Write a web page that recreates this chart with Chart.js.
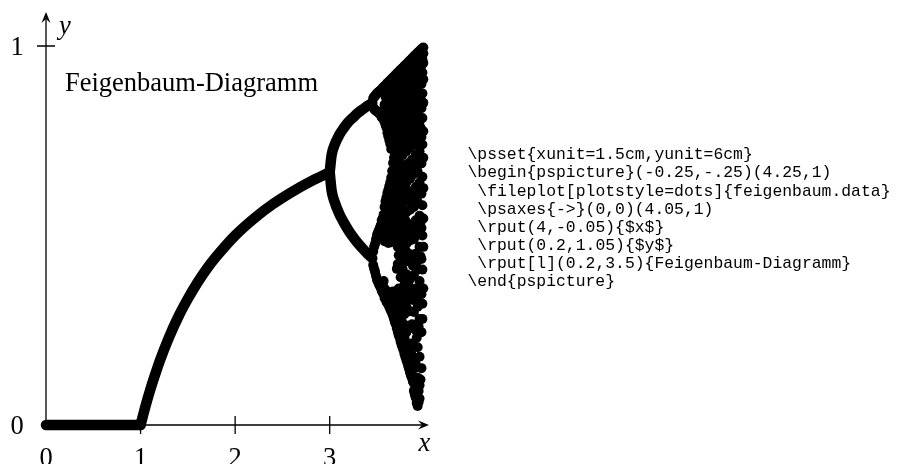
<!DOCTYPE html>
<html>
<head>
<meta charset="utf-8">
<script src="https://cdn.jsdelivr.net/npm/chart.js@4.4.1/dist/chart.umd.min.js"></script>
<style>
  body { margin: 0; background: #fff; }
  #wrap { width: 904px; height: 464px; }
</style>
</head>
<body>
<div id="wrap"><canvas id="feigenbaum" width="904" height="464"></canvas></div>
<script>
// fixed point branch
var zeroR = [0, 0.25, 0.5, 0.75, 1];
var zeroY = [0, 0, 0, 0, 0];
var baseR = [1, 1.05, 1.1, 1.15, 1.2, 1.3, 1.4, 1.5, 1.6, 1.7, 1.8, 2.0, 2.2, 2.4, 2.6, 2.8, 3.0];
var baseY = [0, 0.048, 0.091, 0.13, 0.167, 0.231, 0.286, 0.333, 0.375, 0.412, 0.444, 0.5, 0.545, 0.583, 0.615, 0.643, 0.667];

// period two
var splitR = [3.0, 3.02, 3.05, 3.1, 3.15, 3.2, 3.25, 3.3, 3.35, 3.4, 3.45];
var upperY = [0.667, 0.712, 0.738, 0.765, 0.784, 0.8, 0.812, 0.824, 0.833, 0.842, 0.85];
var lowerY = [0.667, 0.619, 0.59, 0.558, 0.534, 0.513, 0.495, 0.479, 0.465, 0.452, 0.44];

// dots from r = 3.46 on, one column per r
var dotR = [3.46, 3.47, 3.48, 3.49, 3.5, 3.51, 3.52, 3.53, 3.54, 3.55, 3.56, 3.57,
  3.58, 3.59, 3.6, 3.61, 3.62, 3.63, 3.64, 3.65, 3.66, 3.67, 3.68, 3.69, 3.7,
  3.71, 3.72, 3.73, 3.74, 3.75, 3.76, 3.77, 3.78, 3.79, 3.8, 3.81, 3.82, 3.83,
  3.84, 3.85, 3.86, 3.87, 3.88, 3.89, 3.9, 3.91, 3.92, 3.93, 3.94, 3.95, 3.96,
  3.97, 3.98, 3.99];
var dotY = [
  [0.862, 0.838, 0.458, 0.422],
  [0.866, 0.834, 0.47, 0.412],
  [0.868, 0.831, 0.478, 0.404],
  [0.872, 0.829, 0.49, 0.393],
  [0.875, 0.827, 0.501, 0.383],
  [0.877, 0.825, 0.508, 0.378],
  [0.879, 0.823, 0.514, 0.372],
  [0.881, 0.821, 0.52, 0.367],
  [0.883, 0.819, 0.527, 0.362],
  [0.886, 0.885, 0.818, 0.812, 0.54, 0.52, 0.36, 0.354],
  [0.889, 0.885, 0.828, 0.81, 0.545, 0.508, 0.372, 0.35],
  [0.892, 0.886, 0.832, 0.806, 0.555, 0.497, 0.38, 0.345],
  [0.894, 0.884, 0.845, 0.822, 0.8, 0.575, 0.535, 0.485, 0.36, 0.335],
  [0.895, 0.887, 0.866, 0.84, 0.812, 0.792, 0.59, 0.556, 0.5, 0.338],
  [0.899, 0.879, 0.852, 0.818, 0.785, 0.6, 0.545, 0.49, 0.33, 0.325],
  [0.902, 0.89, 0.871, 0.834, 0.8, 0.771, 0.612, 0.574, 0.521, 0.352, 0.322],
  [0.904, 0.896, 0.85, 0.81, 0.79, 0.762, 0.62, 0.555, 0.5, 0.48, 0.318],
  [0.907, 0.884, 0.858, 0.826, 0.781, 0.752, 0.63, 0.588, 0.54, 0.34, 0.312],
  [0.909, 0.872, 0.845, 0.8, 0.77, 0.742, 0.64, 0.61, 0.525, 0.306],
  [0.912, 0.896, 0.863, 0.818, 0.762, 0.728, 0.652, 0.603, 0.56, 0.482, 0.331, 0.301],
  [0.914, 0.88, 0.84, 0.79, 0.735, 0.67, 0.62, 0.54, 0.5, 0.318, 0.295],
  [0.917, 0.902, 0.87, 0.805, 0.746, 0.691, 0.636, 0.578, 0.515, 0.352, 0.306, 0.288],
  [0.919, 0.89, 0.86, 0.82, 0.765, 0.705, 0.65, 0.59, 0.54, 0.335, 0.28],
  [0.922, 0.905, 0.878, 0.842, 0.779, 0.718, 0.664, 0.601, 0.528, 0.322, 0.271],
  [0.924, 0.895, 0.85, 0.8, 0.74, 0.7, 0.64, 0.575, 0.51, 0.3, 0.265],
  [0.927, 0.91, 0.868, 0.82, 0.753, 0.686, 0.624, 0.547, 0.494, 0.412, 0.348, 0.28, 0.255],
  [0.929, 0.9, 0.852, 0.79, 0.735, 0.67, 0.61, 0.565, 0.47, 0.425, 0.33, 0.265, 0.246],
  [0.932, 0.915, 0.882, 0.836, 0.768, 0.707, 0.655, 0.59, 0.512, 0.448, 0.36, 0.298, 0.237],
  [0.934, 0.905, 0.858, 0.785, 0.725, 0.66, 0.62, 0.555, 0.48, 0.42, 0.335, 0.275, 0.23],
  [0.937, 0.919, 0.874, 0.803, 0.748, 0.69, 0.604, 0.531, 0.463, 0.39, 0.315, 0.254, 0.22],
  [0.939, 0.905, 0.86, 0.822, 0.765, 0.72, 0.655, 0.58, 0.5, 0.43, 0.355, 0.24, 0.212],
  [0.942, 0.926, 0.891, 0.845, 0.782, 0.712, 0.634, 0.57, 0.488, 0.412, 0.337, 0.27, 0.205],
  [0.944, 0.91, 0.865, 0.8, 0.73, 0.66, 0.61, 0.545, 0.47, 0.39, 0.31, 0.198],
  [0.947, 0.929, 0.883, 0.821, 0.756, 0.681, 0.597, 0.523, 0.446, 0.37, 0.292, 0.231, 0.188],
  [0.949, 0.915, 0.87, 0.805, 0.74, 0.67, 0.615, 0.54, 0.46, 0.385, 0.33, 0.21, 0.18],
  [0.952, 0.934, 0.902, 0.858, 0.793, 0.722, 0.64, 0.561, 0.478, 0.398, 0.312, 0.244, 0.172],
  [0.954, 0.92, 0.875, 0.815, 0.75, 0.68, 0.62, 0.53, 0.455, 0.375, 0.165],
  [0.957, 0.94, 0.896, 0.836, 0.768, 0.69, 0.606, 0.504, 0.432, 0.35, 0.262, 0.196, 0.156],
  [0.959, 0.925, 0.88, 0.82, 0.75, 0.67, 0.59, 0.52, 0.44, 0.365, 0.148],
  [0.962, 0.944, 0.91, 0.862, 0.801, 0.731, 0.65, 0.568, 0.487, 0.385, 0.3, 0.215, 0.138],
  [0.964, 0.93, 0.885, 0.83, 0.76, 0.69, 0.6, 0.525, 0.45, 0.36, 0.19, 0.13],
  [0.967, 0.95, 0.918, 0.85, 0.779, 0.7, 0.615, 0.53, 0.447, 0.348, 0.266, 0.181, 0.124],
  [0.969, 0.935, 0.895, 0.835, 0.765, 0.68, 0.595, 0.51, 0.42, 0.33, 0.115],
  [0.972, 0.956, 0.92, 0.873, 0.812, 0.74, 0.662, 0.575, 0.49, 0.396, 0.298, 0.208, 0.11, 0.09],
  [0.974, 0.94, 0.9, 0.845, 0.77, 0.69, 0.6, 0.515, 0.425, 0.335, 0.15, 0.08],
  [0.977, 0.96, 0.931, 0.862, 0.785, 0.712, 0.628, 0.54, 0.452, 0.36, 0.25, 0.16, 0.096, 0.072],
  [0.979, 0.948, 0.905, 0.85, 0.775, 0.695, 0.61, 0.52, 0.43, 0.335, 0.23, 0.085, 0.058],
  [0.982, 0.966, 0.936, 0.884, 0.82, 0.75, 0.668, 0.588, 0.502, 0.41, 0.312, 0.205, 0.125, 0.062, 0.05],
  [0.984, 0.952, 0.91, 0.86, 0.78, 0.7, 0.62, 0.53, 0.44, 0.35, 0.26, 0.09, 0.06],
  [0.987, 0.971, 0.94, 0.875, 0.8, 0.722, 0.64, 0.552, 0.47, 0.38, 0.28, 0.18, 0.105, 0.07],
  [0.989, 0.96, 0.915, 0.86, 0.785, 0.705, 0.625, 0.535, 0.445, 0.355, 0.12],
  [0.992, 0.975, 0.948, 0.9, 0.836, 0.76, 0.69, 0.61, 0.52, 0.438, 0.345, 0.245, 0.15],
  [0.994, 0.965, 0.93, 0.875, 0.81, 0.74, 0.655, 0.58, 0.5, 0.41, 0.32, 0.28],
  [0.996, 0.98, 0.955, 0.912, 0.85, 0.775, 0.705, 0.625, 0.545, 0.47, 0.36]
];

var xTicks = [0, 1, 2, 3];
var yTicks = [0, 1];

var codeLines = [
  '\\psset{xunit=1.5cm,yunit=6cm}',
  '\\begin{pspicture}(-0.25,-.25)(4.25,1)',
  ' \\fileplot[plotstyle=dots]{feigenbaum.data}',
  ' \\psaxes{->}(0,0)(4.05,1)',
  ' \\rput(4,-0.05){$x$}',
  ' \\rput(0.2,1.05){$y$}',
  ' \\rput[l](0.2,3.5){Feigenbaum-Diagramm}',
  '\\end{pspicture}'
];

function pts(xs, ys) {
  return xs.map(function (x, i) { return { x: x, y: ys[i] }; });
}

var dots = [];
dotR.forEach(function (r, i) {
  dotY[i].forEach(function (y) { dots.push({ x: r, y: y }); });
});

var thick = {
  showLine: true,
  borderColor: '#000',
  borderWidth: 10.5,
  borderCapStyle: 'round',
  borderJoinStyle: 'round',
  pointRadius: 0,
  cubicInterpolationMode: 'monotone',
  clip: false
};

function arrow(ctx, x, y, dir) {
  // dir: 'right' or 'up'
  ctx.save();
  ctx.translate(x, y);
  if (dir === 'up') ctx.rotate(-Math.PI / 2);
  ctx.beginPath();
  ctx.moveTo(0, 0);
  ctx.lineTo(-11, -4.5);
  ctx.lineTo(-7, 0);
  ctx.lineTo(-11, 4.5);
  ctx.closePath();
  ctx.fill();
  ctx.restore();
}

var pstAxes = {
  id: 'pstAxes',
  afterDatasetsDraw: function (chart) {
    var ctx = chart.ctx;
    var xs = chart.scales.x, ys = chart.scales.y;
    var x0 = xs.getPixelForValue(0), y0 = ys.getPixelForValue(0);
    ctx.save();
    ctx.strokeStyle = '#000';
    ctx.fillStyle = '#000';
    ctx.lineWidth = 1.3;

    // axes
    var xEnd = xs.getPixelForValue(4.05), yEnd = ys.getPixelForValue(1.09);
    ctx.beginPath();
    ctx.moveTo(x0, y0); ctx.lineTo(xEnd - 6, y0);
    ctx.moveTo(x0, y0); ctx.lineTo(x0, yEnd + 6);
    ctx.stroke();
    arrow(ctx, xEnd, y0, 'right');
    arrow(ctx, x0, yEnd, 'up');

    // ticks
    ctx.beginPath();
    xTicks.forEach(function (v) {
      if (v === 0) return;
      var p = xs.getPixelForValue(v);
      ctx.moveTo(p, y0 - 9); ctx.lineTo(p, y0 + 9);
    });
    yTicks.forEach(function (v) {
      if (v === 0) return;
      var p = ys.getPixelForValue(v);
      ctx.moveTo(x0 - 9, p); ctx.lineTo(x0 + 9, p);
    });
    ctx.stroke();

    // tick labels
    ctx.font = '26.5px "Liberation Serif", "Times New Roman", serif';
    ctx.textAlign = 'center';
    ctx.textBaseline = 'alphabetic';
    xTicks.forEach(function (v) {
      ctx.fillText(String(v), xs.getPixelForValue(v), y0 + 41);
    });
    yTicks.forEach(function (v) {
      ctx.fillText(String(v), x0 - 29, ys.getPixelForValue(v) + 9);
    });

    // title and axis names
    ctx.textAlign = 'left';
    ctx.fillText('Feigenbaum-Diagramm', xs.getPixelForValue(0.2), ys.getPixelForValue(0.88));
    ctx.font = 'italic 26.5px "Liberation Serif", "Times New Roman", serif';
    ctx.textAlign = 'center';
    ctx.textBaseline = 'middle';
    ctx.fillText('y', xs.getPixelForValue(0.2), ys.getPixelForValue(1.05));
    ctx.fillText('x', xs.getPixelForValue(4), ys.getPixelForValue(-0.05));

    // source listing
    ctx.font = '16.4px "Liberation Mono", "DejaVu Sans Mono", monospace';
    ctx.textAlign = 'left';
    ctx.textBaseline = 'middle';
    codeLines.forEach(function (line, i) {
      var indent = line.charAt(0) === ' ' ? 9.85 : 0;
      ctx.fillText(line.trim(), 467.5 + indent, 155 + i * 18.1);
    });
    ctx.restore();
  }
};

new Chart(document.getElementById('feigenbaum'), {
  type: 'scatter',
  data: {
    datasets: [
      Object.assign({ data: pts(zeroR, zeroY) }, thick),
      Object.assign({ data: pts(baseR, baseY) }, thick),
      Object.assign({ data: pts(splitR, upperY) }, thick),
      Object.assign({ data: pts(splitR, lowerY) }, thick),
      {
        data: dots,
        pointRadius: 5,
        pointBackgroundColor: '#000',
        pointBorderWidth: 0,
        clip: false
      }
    ]
  },
  options: {
    responsive: false,
    animation: false,
    layout: { padding: { left: 46, right: 475, top: 46, bottom: 39 } },
    scales: {
      x: { type: 'linear', min: 0, max: 4.05, display: false },
      y: { type: 'linear', min: 0, max: 1, display: false }
    },
    plugins: {
      legend: { display: false },
      tooltip: { enabled: false }
    }
  },
  plugins: [pstAxes]
});
</script>
</body>
</html>
